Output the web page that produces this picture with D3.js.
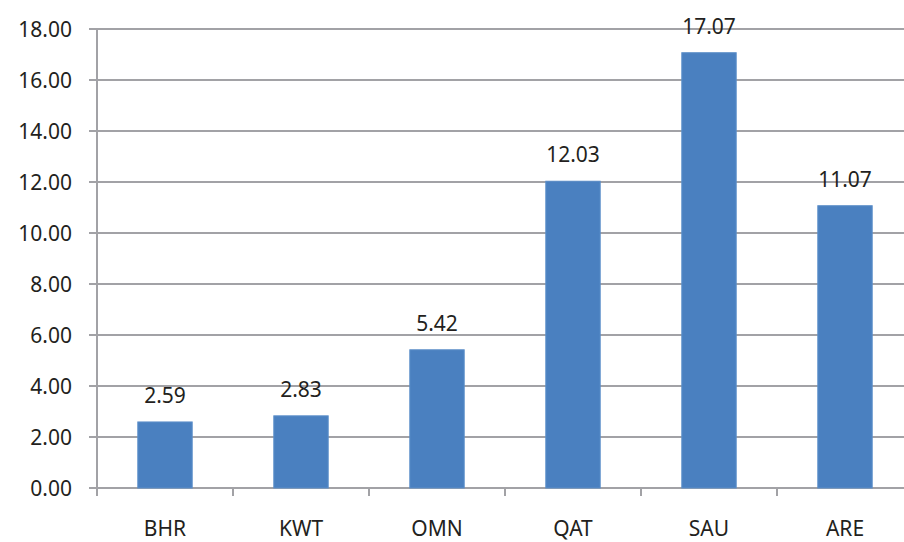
<!DOCTYPE html>
<html>
<head>
<meta charset="utf-8">
<script src="https://cdn.jsdelivr.net/npm/d3@7"></script>
<style>
  html, body { margin: 0; padding: 0; background: #fff; }
  svg text { font-family: "Noto Sans", "Open Sans", sans-serif; fill: #231f20; }
</style>
</head>
<body>
<svg id="chart" width="904" height="542"></svg>
<script>
// chart data
var categories = ["BHR", "KWT", "OMN", "QAT", "SAU", "ARE"];
var values = [2.59, 2.83, 5.42, 12.03, 17.07, 11.07];
var yTicks = [0, 2, 4, 6, 8, 10, 12, 14, 16, 18];

var svg = d3.select("#chart");

var margin = {top: 29, left: 97},
    slot = 136,
    width = slot * categories.length,
    height = 459;

var x = d3.scaleBand().domain(categories).range([0, width]).padding(0),
    y = d3.scaleLinear().domain([0, 18]).range([height, 0]);

var gridColor = "#a2a2a6";

var g = svg.append("g")
    .attr("transform", "translate(" + margin.left + "," + margin.top + ")");

// horizontal gridlines, sticking out 8px left as ticks
g.append("g")
  .selectAll("line")
  .data(yTicks)
  .enter().append("line")
    .attr("x1", -8)
    .attr("x2", width)
    .attr("y1", function(d) { return y(d); })
    .attr("y2", function(d) { return y(d); })
    .attr("stroke", gridColor)
    .attr("stroke-width", 2);

// y axis labels
var yAxis = g.append("g")
    .call(d3.axisLeft(y).tickValues(yTicks).tickFormat(d3.format(".2f")).tickSize(0).tickPadding(25));
yAxis.select(".domain").remove();
yAxis.selectAll("text")
    .attr("font-size", 21)
    .attr("dy", "0.36em");

// y axis line
g.append("line")
    .attr("x1", 0).attr("x2", 0)
    .attr("y1", 0).attr("y2", height + 8)
    .attr("stroke", gridColor)
    .attr("stroke-width", 2);

// category ticks between slots
g.append("g")
  .selectAll("line")
  .data(categories.slice(1))
  .enter().append("line")
    .attr("x1", function(d) { return x(d); })
    .attr("x2", function(d) { return x(d); })
    .attr("y1", height)
    .attr("y2", height + 8)
    .attr("stroke", gridColor)
    .attr("stroke-width", 2);

// category labels
g.append("g")
  .selectAll("text")
  .data(categories)
  .enter().append("text")
    .attr("x", function(d) { return x(d) + x.bandwidth() / 2; })
    .attr("y", height + 48)
    .attr("text-anchor", "middle")
    .attr("font-size", 21)
    .text(function(d) { return d; });

var barW = x.bandwidth() * 0.4;

// bars
g.selectAll(".bar")
  .data(values)
  .enter().append("rect")
    .attr("class", "bar")
    .attr("x", function(d, i) { return x(categories[i]) + (x.bandwidth() - barW) / 2; })
    .attr("width", barW)
    .attr("y", function(d) { return y(d); })
    .attr("height", function(d) { return height - y(d); })
    .attr("fill", "#4a80c0")
    .attr("stroke", "#5d8fc9")
    .attr("stroke-width", 1);

// value labels
g.selectAll(".val")
  .data(values)
  .enter().append("text")
    .attr("class", "val")
    .attr("x", function(d, i) { return x(categories[i]) + x.bandwidth() / 2; })
    .attr("y", function(d) { return y(d) - 19; })
    .attr("text-anchor", "middle")
    .attr("font-size", 21)
    .text(function(d) { return d3.format(".2f")(d); });
</script>
</body>
</html>
